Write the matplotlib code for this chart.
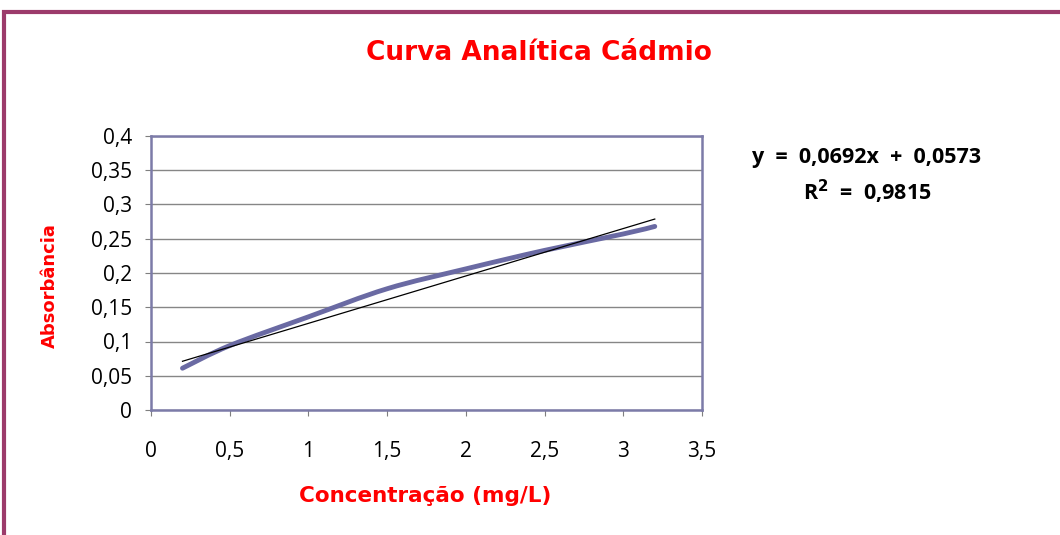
import numpy as np
import matplotlib
matplotlib.use('Agg')
import matplotlib.pyplot as plt
from matplotlib.patches import Rectangle, PathPatch
from matplotlib.path import Path

# data
concentration = [0.2, 0.5, 1.0, 1.5, 2.0, 2.5, 3.0, 3.2]
absorbance = [0.061, 0.094, 0.136, 0.177, 0.206, 0.233, 0.257, 0.268]
slope = 0.0692
intercept = 0.0573
x_ticks = [0, 0.5, 1, 1.5, 2, 2.5, 3, 3.5]
y_ticks = [0, 0.05, 0.1, 0.15, 0.2, 0.25, 0.3, 0.35, 0.4]

plt.rcParams['font.family'] = ['Open Sans', 'DejaVu Sans']
red = '#FF0000'


def smooth_path(xs, ys):
    # excel style smoothed line: cubic bezier through every point
    pts = np.column_stack([xs, ys])
    verts = [pts[0]]
    codes = [Path.MOVETO]
    n = len(pts)
    for i in range(n - 1):
        p0 = pts[i - 1] if i > 0 else pts[i]
        p1 = pts[i]
        p2 = pts[i + 1]
        p3 = pts[i + 2] if i + 2 < n else pts[i + 1]
        c1 = p1 + (p2 - p0) / 6
        c2 = p2 - (p3 - p1) / 6
        verts += [c1, c2, p2]
        codes += [Path.CURVE4] * 3
    return Path(verts, codes)


fig = plt.figure(figsize=(10.6, 5.35), dpi=100)
ax = fig.add_axes([151 / 1060, 1 - 410 / 535, 551 / 1060, 274 / 535])

# outer chart border
fig.patches.append(Rectangle((4 / 1060, -0.1), 1.2, (535 - 12) / 535 + 0.1,
                             transform=fig.transFigure, fill=False,
                             edgecolor='#9C3B6B', linewidth=3))

ax.add_patch(PathPatch(smooth_path(concentration, absorbance), fill=False,
                       edgecolor='#6A6AA3', linewidth=3.5, capstyle='round',
                       zorder=3))
xs = np.array([concentration[0], concentration[-1]])
ax.plot(xs, slope * xs + intercept, color='black', linewidth=0.9, zorder=4)

ax.set_xlim(0, 3.5)
ax.set_ylim(0, 0.4)
ax.set_xticks(x_ticks)
ax.set_yticks(y_ticks)
ax.set_xticklabels([f'{t:g}'.replace('.', ',') for t in x_ticks], fontsize=15)
ax.set_yticklabels([f'{t:g}'.replace('.', ',') for t in y_ticks], fontsize=15)
ax.tick_params(axis='x', length=4.5, color='#7F7F7F', pad=18)
ax.tick_params(axis='y', length=4.5, color='#7F7F7F', pad=9)
ax.grid(axis='y', color='#868686', linewidth=1)
ax.set_axisbelow(True)
for sp in ax.spines.values():
    sp.set_color('#7C7BA8')
    sp.set_linewidth(1.8)

fig.text(539 / 1060, 1 - 53 / 535, 'Curva Analítica Cádmio', color=red,
         fontsize=19, fontweight='bold', family='DejaVu Sans',
         ha='center', va='center')
fig.text(425 / 1060, 1 - 496 / 535, 'Concentração (mg/L)', color=red,
         fontsize=15.5, fontweight='bold', family='DejaVu Sans',
         ha='center', va='center')
fig.text(50 / 1060, 1 - 286 / 535, 'Absorbância', color=red,
         fontsize=13, fontweight='bold', family='DejaVu Sans',
         ha='center', va='center', rotation=90)

fig.text(867 / 1060, 1 - 157 / 535, 'y  =  0,0692x  +  0,0573', color='black',
         fontsize=15.5, fontweight='bold', ha='center', va='center')
fig.text(867 / 1060, 1 - 192 / 535, 'R$^{\\mathbf{2}}$  =  0,9815', color='black',
         fontsize=15.5, fontweight='bold', ha='center', va='center')

fig.savefig('out.png', dpi=100)
